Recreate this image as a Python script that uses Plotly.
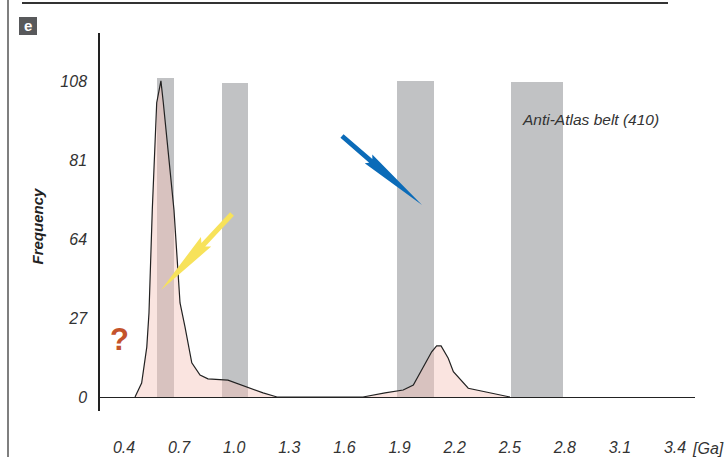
import plotly.graph_objects as go

# ---------------- data ----------------
# age spectrum curve (Ga) and frequency
age = [0.460, 0.496, 0.524, 0.536, 0.554, 0.578, 0.601, 0.614, 0.672, 0.705, 0.732,
       0.769, 0.814, 0.857, 0.966, 1.068, 1.157, 1.233,
       1.701, 1.821, 1.920, 1.975, 2.029, 2.075, 2.102, 2.126, 2.165, 2.193, 2.274, 2.501]
freq = [0.0, 4.8, 17.1, 28.8, 64.1, 100.8, 108.3, 100.8, 64.1, 32.2, 24.0,
        11.7, 7.5, 6.2, 5.8, 3.4, 1.4, 0.0,
        0.0, 1.4, 2.4, 4.1, 10.4, 15.5, 17.5, 17.5, 13.3, 8.7, 3.0, 0.0]

# grey highlighted age windows
band_start = [0.580, 0.933, 1.886, 2.507]
band_end = [0.672, 1.075, 2.088, 2.790]
band_top = [109.4, 107.6, 108.3, 108.0]

x_tickvals = [0.4, 0.7, 1.0, 1.3, 1.6, 1.9, 2.2, 2.5, 2.8, 3.1, 3.4]
x_ticktext = ["0.4", "0.7", "1.0", "1.3", "1.6", "1.9", "2.2", "2.5", "2.8", "3.1", "3.4"]
y_tickvals = [0, 27, 54, 81, 108]
y_ticktext = ["0", "27", "64", "81", "108"]

# ---------------- layout geometry ----------------
W, H = 726, 457
L, T, R, B = 100, 33, 695, 411
PW, PH = R - L, B - T

def px(x):
    return (x - L) / PW

def py(y):
    return (B - y) / PH

SANS = "Liberation Sans, Arial, sans-serif"
TXT = "#333333"

fig = go.Figure()

centers = [(s + e) / 2 for s, e in zip(band_start, band_end)]
widths = [e - s for s, e in zip(band_start, band_end)]
fig.add_trace(go.Bar(x=centers, y=band_top, width=widths,
                     marker=dict(color="#c1c2c4", line=dict(width=0)),
                     hoverinfo="skip", showlegend=False))

fig.add_trace(go.Scatter(x=age, y=freq, mode="lines", fill="tozeroy",
                         fillcolor="rgba(243,196,187,0.45)",
                         line=dict(color="#222222", width=1.2),
                         hoverinfo="skip", showlegend=False))


def arrow_path(tail, tip, hw_shaft, hw_barb, s_shaft, s_barb):
    (x0, y0), (x1, y1) = tail, tip
    dx, dy = x1 - x0, y1 - y0
    ln = (dx * dx + dy * dy) ** 0.5
    ux, uy = dx / ln, dy / ln
    nx, ny = -uy, ux

    def pt(s, h):
        return (x0 + ux * s + nx * h, y0 + uy * s + ny * h)

    pts = [pt(0, hw_shaft), pt(s_shaft, hw_shaft), pt(s_barb, hw_barb), (x1, y1),
           pt(s_barb, -hw_barb), pt(s_shaft, -hw_shaft), pt(0, -hw_shaft)]
    d = "M " + " L ".join(f"{px(a):.5f},{py(b):.5f}" for a, b in pts) + " Z"
    return d


shapes = [
    dict(type="line", xref="paper", yref="paper", x0=px(22), x1=px(668), y0=py(3), y1=py(3),
         line=dict(color="#333333", width=2)),
    dict(type="line", xref="paper", yref="paper", x0=px(8), x1=px(8), y0=py(0), y1=py(457),
         line=dict(color="#555555", width=1.5)),
    dict(type="rect", xref="paper", yref="paper", x0=px(19), x1=px(37), y0=py(17), y1=py(35),
         fillcolor="#58595b", line=dict(width=0)),
    dict(type="path", xref="paper", yref="paper",
         path=arrow_path((342, 136), (422, 205), 2.4, 5.8, 38, 35),
         fillcolor="#0b6bb8", line=dict(width=0)),
    dict(type="path", xref="paper", yref="paper",
         path=arrow_path((232, 214), (161, 290), 2.6, 7.0, 42, 38),
         fillcolor="#f7e25a", line=dict(width=0)),
]

annotations = [
    dict(xref="paper", yref="paper", x=px(28), y=py(26), text="<b>e</b>", showarrow=False,
         font=dict(family=SANS, size=15, color="white"), xanchor="center", yanchor="middle"),
    dict(xref="paper", yref="paper", x=px(119), y=py(339), text="<b>?</b>", showarrow=False,
         font=dict(family=SANS, size=31, color="#c4532b"), xanchor="center", yanchor="middle"),
    dict(xref="paper", yref="paper", x=px(520), y=py(120), text="Anti-Atlas belt (410)",
         showarrow=False, font=dict(family=SANS, size=15.5, color=TXT, style="italic"),
         xanchor="left", yanchor="middle"),
    dict(xref="paper", yref="paper", x=px(708), y=py(448), text="[Ga]", showarrow=False,
         font=dict(family=SANS, size=16, color=TXT, style="italic"),
         xanchor="center", yanchor="middle"),
    dict(xref="paper", yref="paper", x=px(36.5), y=py(226), text="<b>Frequency</b>",
         showarrow=False, textangle=-90,
         font=dict(family=SANS, size=15, color="#222222", style="italic"),
         xanchor="center", yanchor="middle"),
]

x_lo = 0.4 + (L - 124) / 183.7
x_hi = 0.4 + (R - 124) / 183.7
ys = (397 - 81.7) / 108.0
y_lo = -(B - 397) / ys
y_hi = (397 - T) / ys

fig.update_layout(
    width=W, height=H, autosize=False,
    margin=dict(l=L, r=W - R, t=T, b=H - B, pad=0),
    paper_bgcolor="white", plot_bgcolor="white",
    barmode="overlay", bargap=0,
    shapes=shapes, annotations=annotations,
    xaxis=dict(range=[x_lo, x_hi], tickvals=x_tickvals, ticktext=x_ticktext,
               showline=False, showgrid=False, zeroline=False, ticks="", automargin=False,
               tickfont=dict(family=SANS, size=16, color=TXT, style="italic"),
               ticklabelstandoff=25, fixedrange=True),
    yaxis=dict(range=[y_lo, y_hi], tickvals=y_tickvals, ticktext=y_ticktext,
               showline=True, linecolor="#222222", linewidth=1.5, automargin=False,
               showgrid=False, zeroline=True, zerolinecolor="#222222", zerolinewidth=1.3,
               ticks="", tickfont=dict(family=SANS, size=16, color=TXT, style="italic"),
               ticklabelstandoff=8, fixedrange=True),
)

fig.write_html("out.html", config={"displayModeBar": False},
               post_script="document.body.style.margin='0px';")
